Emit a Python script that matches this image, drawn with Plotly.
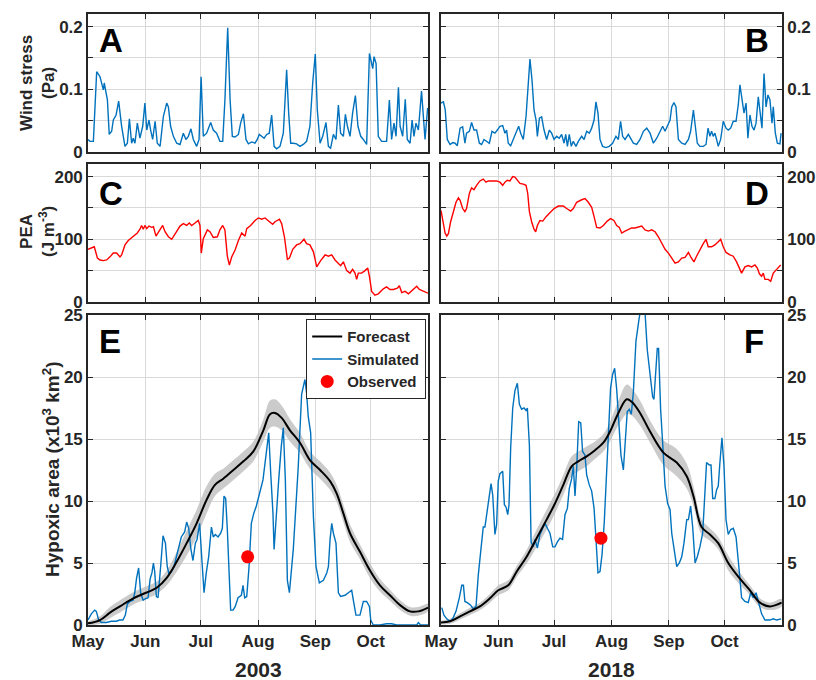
import numpy as np
import pandas as pd
import plotly.graph_objects as go

# ---------------- DATA (days since 1 May, values) ----------------
months = ["May", "Jun", "Jul", "Aug", "Sep", "Oct"]

wind03_day = [0, 1.1, 2.9, 4.7, 6.5, 8.3, 8.8, 9.7, 10.5, 11.5, 12.8, 13.7, 15.2, 16.6, 18.2, 20.0, 21.3, 22.4, 23.6, 24.5,
              25.4, 26.7, 28.1, 29.6, 30.8, 31.8, 33.0, 33.9, 35.0, 36.3, 37.5, 39.0, 40.8, 42.6, 43.5, 44.7, 46.2, 48.0, 49.8,
              51.6, 53.0, 54.3, 55.7, 57.0, 58.8, 60.1, 61.2, 62.4, 64.2, 66.4, 67.8, 69.6, 71.4, 72.9, 74.1, 75.6, 76.9, 78.1,
              79.6, 81.4, 82.6, 84.1, 85.5, 86.8, 88.6, 90.4, 91.6, 92.7, 94.0, 95.3, 96.7, 98.1, 99.4, 100.7, 102.1, 103.9,
              105.7, 107.5, 108.6, 109.7, 111.1, 112.9, 114.7, 116.5, 118.3, 120.1, 121.6, 123.0, 124.1, 125.6, 127.0, 128.8,
              130.1, 131.3, 132.8, 134.2, 135.5, 136.7, 138.2, 139.3, 140.4, 141.8, 143.2, 144.7, 146.1, 147.6, 149.0, 150.8,
              152.3, 153.2, 154.1, 154.8, 155.9, 157.1, 158.9, 161.6, 163.1, 164.3, 165.6, 166.7, 168.0, 168.9, 170.3, 171.7,
              172.8, 174.3, 175.4, 176.4, 177.5, 178.8, 180.5, 182.4, 183.8]
wind03_val = [0.020, 0.017, 0.017, 0.128, 0.120, 0.099, 0.110, 0.098, 0.083, 0.028, 0.033, 0.051, 0.059, 0.081, 0.041, 0.009,
              0.014, 0.053, 0.014, 0.022, 0.014, 0.046, 0.022, 0.041, 0.078, 0.035, 0.051, 0.035, 0.020, 0.049, 0.014, 0.009,
              0.057, 0.078, 0.072, 0.041, 0.025, 0.014, 0.012, 0.030, 0.020, 0.025, 0.037, 0.020, 0.009, 0.020, 0.120, 0.025,
              0.030, 0.047, 0.035, 0.030, 0.017, 0.017, 0.083, 0.198, 0.083, 0.025, 0.024, 0.028, 0.046, 0.061, 0.020, 0.013,
              0.016, 0.014, 0.020, 0.028, 0.025, 0.022, 0.028, 0.030, 0.059, 0.009, 0.005, 0.009, 0.030, 0.131, 0.062, 0.014,
              0.014, 0.013, 0.009, 0.012, 0.017, 0.041, 0.110, 0.156, 0.067, 0.014, 0.025, 0.047, 0.009, 0.006, 0.028, 0.020,
              0.075, 0.030, 0.025, 0.060, 0.041, 0.025, 0.062, 0.090, 0.041, 0.025, 0.020, 0.012, 0.157, 0.147, 0.133, 0.152,
              0.141, 0.025, 0.017, 0.017, 0.083, 0.020, 0.046, 0.025, 0.103, 0.041, 0.025, 0.084, 0.020, 0.014, 0.051, 0.025,
              0.046, 0.035, 0.097, 0.020, 0.070]

wind18_day = [0, 1.3, 2.3, 3.4, 4.9, 6.3, 7.6, 8.8, 10.3, 11.7, 12.9, 13.8, 15.3, 16.5, 17.8, 19.2, 20.7, 21.9, 23.2, 24.6,
              26.1, 27.5, 29.1, 30.4, 31.8, 33.3, 34.5, 35.4, 36.3, 37.6, 39.0, 40.8, 41.9, 43.0, 44.4, 45.9, 46.9, 48.0, 49.1,
              50.2, 51.3, 52.0, 53.1, 54.3, 55.6, 57.0, 58.5, 59.7, 61.0, 62.4, 63.8, 65.1, 66.4, 67.3, 68.2, 69.2, 70.3, 71.4,
              72.8, 74.1, 75.9, 77.2, 78.6, 80.0, 81.3, 82.6, 83.6, 84.7, 85.8, 87.2, 89.0, 90.8, 92.6, 94.4, 95.7, 96.9, 98.0,
              99.3, 101.1, 102.3, 103.8, 105.6, 107.4, 109.2, 111.0, 112.8, 114.6, 116.4, 118.2, 119.6, 120.9, 122.1, 123.6,
              124.5, 125.7, 126.8, 128.1, 129.9, 131.7, 133.5, 134.7, 136.2, 137.1, 138.3, 139.7, 141.5, 143.0, 144.1, 145.1,
              146.0, 146.9, 147.8, 148.7, 149.6, 150.9, 152.3, 153.8, 155.0, 156.3, 157.7, 159.2, 160.4, 161.3, 162.4, 163.5,
              164.6, 165.6, 166.7, 167.8, 168.9, 170.0, 171.2, 172.1, 173.2, 174.3, 175.4, 176.4, 177.5, 178.6, 179.3, 180.4,
              181.5, 182.9, 183.5]
wind18_val = [0.078, 0.080, 0.067, 0.020, 0.012, 0.015, 0.014, 0.010, 0.038, 0.040, 0.014, 0.030, 0.033, 0.047, 0.035, 0.035,
              0.014, 0.012, 0.020, 0.017, 0.014, 0.033, 0.030, 0.035, 0.041, 0.042, 0.030, 0.035, 0.014, 0.010, 0.020, 0.033,
              0.041, 0.030, 0.020, 0.057, 0.099, 0.148, 0.115, 0.067, 0.051, 0.025, 0.054, 0.056, 0.035, 0.020, 0.035, 0.030,
              0.020, 0.025, 0.022, 0.028, 0.014, 0.028, 0.009, 0.028, 0.009, 0.017, 0.009, 0.017, 0.025, 0.020, 0.033, 0.030,
              0.038, 0.051, 0.080, 0.062, 0.020, 0.009, 0.007, 0.009, 0.014, 0.025, 0.020, 0.049, 0.025, 0.020, 0.028, 0.022,
              0.014, 0.012, 0.020, 0.033, 0.038, 0.030, 0.014, 0.022, 0.033, 0.041, 0.033, 0.041, 0.051, 0.072, 0.079, 0.072,
              0.020, 0.014, 0.012, 0.020, 0.033, 0.067, 0.041, 0.014, 0.009, 0.009, 0.012, 0.038, 0.025, 0.033, 0.025, 0.030,
              0.020, 0.009, 0.020, 0.049, 0.038, 0.035, 0.038, 0.049, 0.049, 0.075, 0.107, 0.083, 0.062, 0.078, 0.022, 0.059,
              0.041, 0.035, 0.046, 0.088, 0.062, 0.038, 0.125, 0.072, 0.091, 0.083, 0.046, 0.072, 0.030, 0.014, 0.013, 0.030]

pea03_day = [0, 2.0, 3.4, 5.1, 6.5, 8.3, 10.1, 11.9, 13.7, 15.5, 17.3, 18.2, 20.0, 21.8, 24.5, 26.7, 28.1, 29.0, 29.9, 30.8,
             31.8, 33.0, 34.5, 35.4, 36.8, 38.1, 40.4, 41.7, 43.5, 45.3, 47.1, 49.8, 51.6, 53.4, 54.8, 56.1, 57.9, 59.7, 60.6,
             61.3, 62.4, 64.6, 66.0, 67.8, 70.0, 71.4, 72.9, 74.1, 75.4, 76.5, 77.8, 79.6, 81.4, 83.2, 85.0, 85.9, 88.0, 90.4,
             92.2, 94.0, 95.8, 97.6, 99.9, 101.2, 103.6, 104.8, 106.3, 107.9, 109.0, 110.8, 112.9, 114.7, 116.9, 118.3, 120.1,
             122.0, 123.8, 125.9, 128.3, 130.1, 131.9, 133.7, 135.5, 136.7, 138.2, 140.0, 141.8, 143.2, 144.5, 145.4, 146.3,
             148.1, 149.9, 151.4, 152.3, 153.5, 155.3, 157.1, 159.8, 161.6, 163.4, 165.3, 167.4, 168.5, 169.8, 171.6, 173.4,
             176.1, 177.9, 179.3, 181.5, 184.0]
pea03_val = [84, 87, 88, 70, 67, 66, 67, 72, 78, 78, 72, 75, 91, 98, 104, 110, 116, 122, 116, 122,
             117, 121, 119, 120, 105, 112, 122, 112, 104, 100, 109, 121, 125, 122, 126, 122, 126, 130, 122,
             78, 101, 115, 112, 103, 104, 115, 122, 115, 73, 59, 72, 83, 98, 110, 105, 117, 122, 130,
             134, 132, 134, 130, 124, 128, 132, 125, 104, 68, 70, 84, 91, 93, 100, 93, 91,
             80, 56, 66, 75, 73, 75, 67, 62, 58, 64, 50, 46, 52, 46, 36, 46,
             46, 50, 54, 41, 17, 11, 13, 21, 24, 20, 20, 22, 26, 15, 17, 13,
             20, 25, 20, 17, 14]

pea18_day = [0, 1.3, 2.2, 3.1, 4.0, 5.2, 6.7, 8.1, 9.4, 10.3, 11.7, 12.9, 13.8, 15.3, 16.5, 17.8, 19.2, 21.0, 22.8, 24.3,
             25.5, 26.8, 28.2, 30.0, 31.8, 33.3, 34.5, 35.8, 37.2, 38.7, 39.9, 41.2, 42.6, 44.4, 45.9, 46.8, 47.7, 48.9, 50.2,
             51.1, 52.0, 53.4, 54.9, 56.7, 58.8, 61.0, 63.3, 66.0, 67.8, 70.0, 71.4, 73.2, 75.9, 77.7, 79.5, 81.3, 82.6, 84.0,
             85.8, 87.6, 89.7, 91.5, 93.3, 94.8, 96.2, 97.5, 99.3, 101.1, 102.9, 104.7, 106.5, 108.3, 110.1, 111.9, 113.7,
             115.5, 117.3, 119.1, 120.9, 122.7, 124.5, 126.3, 128.1, 129.9, 131.7, 133.5, 134.9, 136.5, 137.9, 139.7, 141.5,
             143.0, 144.2, 146.0, 147.8, 149.6, 150.9, 152.3, 153.8, 155.9, 157.7, 159.5, 161.0, 162.2, 164.0, 165.8, 167.6,
             169.4, 170.7, 171.8, 173.0, 173.9, 174.8, 176.6, 177.9, 179.3, 181.1, 183.3]
pea18_val = [146, 128, 110, 105, 109, 128, 146, 159, 166, 162, 149, 144, 149, 173, 182, 179, 186, 193, 196, 191,
             193, 193, 194, 193, 191, 186, 191, 194, 193, 200, 199, 194, 189, 188, 186, 173, 144, 128, 116,
             112, 122, 130, 129, 136, 142, 149, 153, 153, 149, 145, 149, 159, 163, 165, 159, 151, 136, 119,
             118, 122, 129, 133, 130, 122, 119, 110, 113, 115, 118, 118, 119, 121, 115, 113, 115,
             112, 104, 93, 84, 78, 70, 62, 64, 70, 71, 79, 71, 64, 73, 84, 93,
             100, 88, 88, 91, 96, 100, 88, 79, 75, 73, 64, 55, 46, 56, 58, 56,
             59, 54, 45, 41, 46, 36, 36, 33, 46, 52, 59]

fc03_day = [0, 6.5, 11.9, 17.3, 24.5, 31.4, 37.2, 42.6, 48.0, 53.4, 58.8, 64.2, 68.7, 73.2, 78.7, 84.1, 89.5, 94.9, 98.5,
            101.2, 104.8, 109.3, 114.7, 120.1, 125.6, 131.0, 134.6, 138.2, 141.8, 147.2, 152.6, 158.0, 163.4, 168.9, 174.3,
            178.8, 184.0]
fc03_val = [0.13, 0.4, 1.0, 1.5, 2.15, 2.6, 3.0, 3.8, 5.1, 6.6, 8.2, 10.1, 11.3, 11.8, 12.5, 13.2, 14.0, 15.7, 17.0,
            17.1, 16.7, 15.7, 14.7, 13.3, 12.5, 11.6, 10.6, 9.0, 7.4, 5.9, 4.4, 3.2, 2.4, 1.6, 1.1, 1.1, 1.4]
fc03_unc = [0.15, 0.3, 0.45, 0.5, 0.5, 0.5, 0.5, 0.6, 0.8, 1.0, 1.1, 1.1, 0.9, 0.8, 0.8, 0.8, 0.8, 0.9, 1.1, 1.1,
            1.0, 0.9, 0.8, 0.7, 0.7, 0.7, 0.7, 0.7, 0.7, 0.6, 0.6, 0.5, 0.45, 0.4, 0.35, 0.35, 0.3]

sim03_day = [0, 1.8, 3.6, 4.5, 5.8, 7.2, 9.9, 12.6, 15.3, 17.1, 18.9, 20.2, 21.3, 22.6, 24.4, 25.3, 26.3, 27.4, 28.5, 29.8,
             31.0, 32.5, 33.6, 34.6, 35.4, 36.1, 37.0, 37.9, 39.3, 40.6, 41.9, 42.9, 43.7, 45.1, 46.5, 47.8, 49.1, 50.5, 52.3,
             53.4, 54.5, 55.6, 56.8, 58.1, 59.0, 60.4, 61.7, 62.8, 64.0, 65.3, 66.8, 67.8, 68.9, 70.4, 71.8, 72.7, 73.6, 74.5,
             75.4, 76.1, 77.2, 78.5, 79.7, 81.2, 83.0, 83.9, 84.8, 85.9, 87.1, 88.4, 89.7, 91.1, 92.9, 94.7, 96.5, 97.8, 98.9,
             100.1, 100.7, 101.9, 103.2, 104.6, 105.7, 106.8, 107.9, 109.0, 111.1, 113.8, 115.6, 117.4, 118.3, 119.2, 120.5,
             122.0, 123.4, 125.2, 127.4, 129.2, 130.1, 131.0, 131.9, 132.8, 134.2, 135.5, 136.7, 139.1, 140.9, 142.7, 143.6,
             145.0, 147.2, 149.0, 150.8, 152.3, 153.0, 154.4, 158.0, 161.6, 164.3, 167.1, 170.7, 177.9, 178.8, 180.0, 184.0]
sim03_val = [0.4, 0.9, 1.2, 1.1, 0.4, 0.2, 0.2, 0.3, 0.3, 0.4, 0.4, 0.8, 1.7, 1.9, 2.0, 2.6, 3.8, 4.6, 2.6, 2.0,
             2.1, 2.2, 3.7, 4.2, 5.0, 4.3, 2.3, 2.2, 4.7, 7.2, 6.6, 4.7, 4.2, 4.3, 4.7, 5.5, 6.3, 7.1, 7.5,
             8.3, 7.8, 6.2, 5.2, 6.6, 6.9, 8.2, 5.1, 2.6, 4.2, 5.5, 7.9, 7.1, 7.3, 7.1, 7.4, 7.8, 10.4, 10.2,
             7.7, 4.7, 1.2, 1.2, 1.5, 2.2, 2.4, 3.2, 2.2, 2.3, 4.6, 8.2, 9.0, 9.6, 10.6, 11.7, 13.9, 15.5, 12.2,
             9.0, 6.1, 9.0, 11.7, 14.4, 15.9, 11.7, 3.6, 2.6, 6.1, 12.8, 18.6, 19.8, 18.7, 16.8, 15.5,
             8.7, 4.7, 3.4, 3.6, 4.2, 4.7, 6.9, 8.2, 7.4, 6.6, 2.6, 2.3, 2.4, 2.6, 2.8, 2.0,
             0.8, 0.8, 1.9, 1.9, 1.5, 0.4, 0.0, 0.0, 0.1, 0.1, 0.0, 0.0, 0.0, 0.2, 0.0, 0.0]

fc18_day = [0, 4.9, 10.3, 15.6, 21.0, 26.4, 30.9, 36.3, 40.8, 46.2, 51.6, 57.0, 61.5, 66.0, 70.5, 74.1, 78.6, 83.1, 87.6,
            91.2, 95.7, 100.2, 102.9, 107.4, 112.8, 120.0, 127.2, 132.6, 136.2, 140.6, 145.1, 149.6, 155.0, 160.4, 166.7,
            172.1, 177.5, 183.8]
fc18_val = [0.2, 0.3, 0.7, 1.1, 1.5, 2.15, 2.8, 3.2, 4.3, 5.5, 7.0, 8.5, 9.8, 11.3, 12.8, 13.2, 13.6, 14.1, 14.7,
            15.6, 17.1, 18.2, 18.0, 17.1, 15.6, 13.9, 13.1, 12.0, 10.4, 7.9, 7.3, 6.6, 5.0, 3.9, 2.8, 1.8, 1.5, 1.8]
fc18_unc = [0.15, 0.2, 0.25, 0.3, 0.3, 0.35, 0.4, 0.4, 0.45, 0.55, 0.7, 0.8, 0.8, 0.8, 0.8, 0.8, 0.8, 0.7, 0.7, 0.8,
            1.0, 1.2, 1.1, 1.0, 0.9, 1.0, 1.1, 1.0, 0.8, 0.6, 0.5, 0.5, 0.6, 0.5, 0.4, 0.35, 0.3, 0.3]

sim18_day = [0.4, 1.6, 3.1, 4.9, 6.3, 8.1, 9.9, 11.2, 12.1, 12.9, 14.2, 16.0, 17.4, 18.9, 20.1, 21.4, 22.8, 23.7, 24.6, 26.1,
             27.0, 27.9, 29.1, 30.0, 30.9, 31.8, 33.3, 34.2, 35.1, 36.0, 36.7, 37.6, 38.7, 39.9, 41.2, 42.3, 43.5, 44.8, 45.9,
             46.6, 47.7, 48.6, 49.8, 50.7, 52.0, 53.4, 54.9, 56.1, 57.4, 58.8, 60.3, 61.5, 62.8, 64.2, 65.6, 66.9, 68.2, 69.2,
             70.5, 71.4, 72.3, 73.2, 74.3, 75.4, 76.4, 77.7, 78.6, 80.0, 81.3, 82.6, 83.6, 84.7, 85.8, 86.9, 88.1, 89.4, 90.5,
             91.5, 92.6, 93.7, 94.8, 96.0, 97.1, 98.4, 99.5, 100.5, 101.6, 102.7, 103.8, 105.2, 106.7, 107.4, 108.8, 110.1,
             111.3, 112.8, 114.2, 114.9, 116.0, 116.7, 117.4, 118.5, 119.6, 120.9, 122.3, 123.6, 124.5, 125.7, 127.2, 128.6,
             129.9, 131.1, 132.6, 133.5, 134.7, 135.8, 137.1, 138.3, 139.7, 141.2, 142.4, 143.3, 144.8, 145.7, 146.6, 147.8,
             148.7, 149.6, 150.5, 151.6, 152.7, 153.8, 155.0, 156.3, 157.7, 159.2, 160.4, 161.3, 162.2, 164.0, 165.8, 167.1,
             168.5, 170.0, 171.2, 173.0, 174.8, 177.5, 179.3, 181.1, 183.5]
sim18_val = [1.4, 0.8, 0.5, 0.3, 0.5, 1.1, 2.2, 3.2, 3.2, 1.9, 1.8, 1.6, 1.3, 1.5, 4.0, 6.2, 7.9, 7.9, 8.9, 10.8,
             11.4, 10.5, 7.3, 8.1, 11.6, 12.2, 12.4, 9.7, 9.5, 8.9, 9.7, 14.3, 17.5, 18.9, 19.5, 17.8, 17.4, 17.5, 17.3,
             17.5, 14.5, 6.7, 6.3, 6.9, 6.2, 7.3, 7.8, 8.2, 7.8, 7.4, 6.3, 6.3, 6.7, 7.0, 6.9, 8.9, 9.4, 11.0,
             11.8, 12.8, 10.4, 12.6, 16.4, 16.3, 14.0, 13.7, 12.1, 11.3, 10.8, 9.4, 7.0, 4.2, 4.3, 5.7, 8.3, 12.9, 17.0,
             19.1, 20.2, 20.7, 19.0, 16.1, 13.7, 12.5, 14.8, 17.2, 17.4, 17.0, 18.8, 22.9, 24.5, 25.2, 26.0, 25.2,
             22.2, 20.3, 18.4, 18.2, 20.6, 22.3, 22.3, 17.4, 14.7, 11.2, 9.8, 9.3, 7.4, 6.3, 4.7, 5.0,
             5.5, 6.6, 8.5, 8.5, 9.6, 7.9, 5.0, 5.5, 6.3, 7.4, 10.6, 13.1, 12.9, 12.9, 10.2, 10.2,
             10.9, 11.2, 13.1, 15.1, 12.8, 8.5, 7.3, 7.7, 7.8, 7.1, 5.2, 3.6, 2.2, 1.9, 1.8, 2.6,
             2.2, 2.6, 2.0, 0.9, 0.4, 0.4, 0.5, 0.4, 0.5]

obs_day = [86.4, 86.3]
obs_val = [5.5, 7.0]
years = [2003, 2018]

# ---------------- STYLE ----------------
FONT = "Liberation Sans, Arial, Helvetica, sans-serif"
AX = "#262626"
GRID = "#d9d9d9"
BLUE = "#0072BD"


def to_dates(year, days):
    return pd.Timestamp(f"{year}-05-01") + pd.to_timedelta(np.array(days, dtype=float), unit="D")


def ax_names(i):
    return ("x" if i == 1 else f"x{i}"), ("y" if i == 1 else f"y{i}")


fig = go.Figure()

for i, (yr, d, v) in enumerate([(2003, wind03_day, wind03_val), (2018, wind18_day, wind18_val)]):
    xa, ya = ax_names(1 + i)
    fig.add_trace(go.Scatter(x=to_dates(yr, d), y=v, mode="lines", line=dict(color=BLUE, width=1.4),
                             xaxis=xa, yaxis=ya, showlegend=False, hoverinfo="skip"))
for i, (yr, d, v) in enumerate([(2003, pea03_day, pea03_val), (2018, pea18_day, pea18_val)]):
    xa, ya = ax_names(3 + i)
    fig.add_trace(go.Scatter(x=to_dates(yr, d), y=v, mode="lines", line=dict(color="#FF0000", width=1.4),
                             xaxis=xa, yaxis=ya, showlegend=False, hoverinfo="skip"))

sets = [(2003, fc03_day, fc03_val, fc03_unc, sim03_day, sim03_val, obs_day[0], obs_val[0]),
        (2018, fc18_day, fc18_val, fc18_unc, sim18_day, sim18_val, obs_day[1], obs_val[1])]
for i, (yr, fd, fv, fu, sd, sv, od, ov) in enumerate(sets):
    xa, ya = ax_names(5 + i)
    fx = to_dates(yr, fd)
    up = np.array(fv) + np.array(fu)
    lo = np.clip(np.array(fv) - np.array(fu), 0, None)
    fig.add_trace(go.Scatter(x=list(fx) + list(fx[::-1]), y=list(up) + list(lo[::-1]), fill="toself",
                             fillcolor="rgba(185,185,185,0.75)", line=dict(width=0, shape="spline"), mode="lines",
                             xaxis=xa, yaxis=ya, showlegend=False, hoverinfo="skip"))
    first = (i == 0)
    fig.add_trace(go.Scatter(x=to_dates(yr, sd), y=sv, mode="lines", line=dict(color=BLUE, width=1.4),
                             name="Simulated", legendrank=2, showlegend=first, xaxis=xa, yaxis=ya))
    fig.add_trace(go.Scatter(x=fx, y=fv, mode="lines", line=dict(color="black", width=2, shape="spline"),
                             name="Forecast", legendrank=1, showlegend=first, xaxis=xa, yaxis=ya))
    fig.add_trace(go.Scatter(x=to_dates(yr, [od]), y=[ov], mode="markers",
                             marker=dict(color="#FF0000", size=13), name="Observed", legendrank=3,
                             showlegend=first, xaxis=xa, yaxis=ya))

W, H = 816, 680
colx = [[88 / W, 428 / W], [441 / W, 782 / W]]
rowy = [[1 - 152 / H, 1 - 14 / H], [1 - 302 / H, 1 - 164 / H], [1 - 625 / H, 1 - 315 / H]]
yspec = [
    dict(range=[0, 0.22], tickvals=[0, 0.1, 0.2], ticktext=["0", "0.1", "0.2"], minor_dtick=0.05),
    dict(range=[0, 220], tickvals=[0, 100, 200], ticktext=["0", "100", "200"], minor_dtick=50),
    dict(range=[0, 25], tickvals=[0, 5, 10, 15, 20, 25], ticktext=["0", "5", "10", "15", "20", "25"], minor_dtick=None),
]
tickfont = dict(family=FONT, size=17, color=AX, weight="bold")
layout = {}
for r in range(3):
    for c in range(2):
        i = r * 2 + c + 1
        yr = years[c]
        xk = "xaxis" if i == 1 else f"xaxis{i}"
        yk = "yaxis" if i == 1 else f"yaxis{i}"
        xa, ya = ax_names(i)
        layout[xk] = dict(domain=colx[c], anchor=ya, type="date",
                          range=[f"{yr}-05-01", f"{yr}-11-01"],
                          tickvals=[f"{yr}-{m:02d}-01" for m in range(5, 11)], ticktext=months,
                          showticklabels=(r == 2), ticks="inside", ticklen=5, tickwidth=1.2, tickcolor=AX,
                          showline=True, linecolor=AX, linewidth=1.6, mirror="ticks",
                          showgrid=True, gridcolor=GRID, gridwidth=1, zeroline=False,
                          tickfont=tickfont, fixedrange=True, automargin=False)
        ys = dict(yspec[r])
        md = ys.pop("minor_dtick")
        ydict = dict(domain=rowy[r], anchor=xa, side=("left" if c == 0 else "right"),
                     ticks="inside", ticklen=5, tickwidth=1.2, tickcolor=AX,
                     showline=True, linecolor=AX, linewidth=1.6, mirror="ticks",
                     showgrid=True, gridcolor=GRID, gridwidth=1, zeroline=False,
                     tickfont=tickfont, fixedrange=True, automargin=False, **ys)
        if md is not None:
            ydict["minor"] = dict(dtick=md, tick0=0, showgrid=True, gridcolor=GRID, gridwidth=1,
                                  ticks="inside", ticklen=5, tickwidth=1.2, tickcolor=AX)
        layout[yk] = ydict

annots = []
letters = [("A", 97, 40, "left"), ("B", 771, 40, "right"), ("C", 97, 193, "left"), ("D", 771, 193, "right"),
           ("E", 97, 341, "left"), ("F", 766, 341, "right")]
for t, px, py, anc in letters:
    annots.append(dict(text=t, x=px / W, y=1 - py / H, xref="paper", yref="paper", xanchor=anc, yanchor="middle",
                       showarrow=False, font=dict(family=FONT, size=33, color="black", weight="bold")))
ytitles = [("Wind stress<br>(Pa)", 37, 83, 17), ("PEA<br>(J m<sup>-3</sup>)", 37, 232, 17),
           ("Hypoxic area (x10<sup>3</sup> km<sup>2</sup>)", 51, 470, 19)]
for t, px, py, fs in ytitles:
    annots.append(dict(text=t, x=px / W, y=1 - py / H, xref="paper", yref="paper", xanchor="center",
                       yanchor="middle", textangle=-90, showarrow=False,
                       font=dict(family=FONT, size=fs, color=AX, weight="bold")))
for yr, px in zip(years, [258, 611]):
    annots.append(dict(text=str(yr), x=px / W, y=1 - 669 / H, xref="paper", yref="paper", xanchor="center",
                       yanchor="middle", showarrow=False, font=dict(family=FONT, size=21, color=AX, weight="bold")))

fig.update_layout(
    width=W, height=H, margin=dict(l=0, r=0, t=0, b=0, pad=0, autoexpand=False),
    plot_bgcolor="white", paper_bgcolor="white",
    annotations=annots,
    legend=dict(x=426 / W, y=1 - 319 / H, xanchor="right", yanchor="top", bgcolor="white",
                bordercolor=AX, borderwidth=1.2, font=dict(family=FONT, size=15, color=AX, weight="bold"),
                tracegroupgap=0, itemwidth=30),
    **layout,
)

fig.write_html("out.html", config={"displayModeBar": False},
               post_script="document.body.style.margin='0px';")
